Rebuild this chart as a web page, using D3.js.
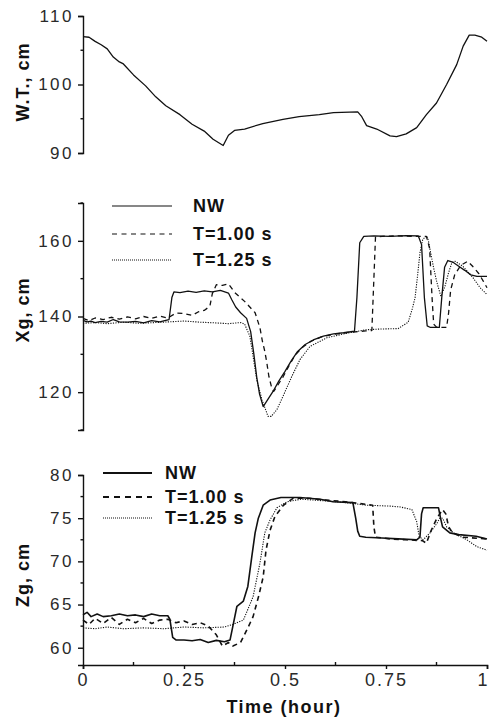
<!DOCTYPE html>
<html>
<head>
<meta charset="utf-8">
<script src="https://cdn.jsdelivr.net/npm/d3@7/dist/d3.min.js"></script>
<style>
  html, body { margin: 0; padding: 0; background: #fff; }
  svg { display: block; }
  .tick-label { font-family: "Liberation Sans", Arial, sans-serif; font-size: 17px; letter-spacing: 2.5px; fill: #2a2a2a; }
  .axis-title { font-family: "Liberation Sans", Arial, sans-serif; font-size: 18px; font-weight: bold; letter-spacing: 1px; fill: #111; }
  .legend-text { font-family: "Liberation Sans", Arial, sans-serif; font-size: 18px; font-weight: bold; letter-spacing: 1px; fill: #111; }
</style>
</head>
<body>
<svg id="chart" width="489" height="721"></svg>
<script>
// ---- data: time (hour) vs value ----
const timeTicks = [0, 0.25, 0.5, 0.75, 1];
const timeTickLabels = ["0", "0.25", "0.5", "0.75", "1"];

const wtTicks = [90, 100, 110];
const xgTicks = [120, 140, 160];
const zgTicks = [60, 65, 70, 75, 80];

const seriesNames = ["NW", "T=1.00 s", "T=1.25 s"];

// water table, cm
const waterTable = [[0,107],[0.015,106.9],[0.03,106.3],[0.045,105.8],[0.06,105.2],[0.075,104],[0.09,103.3],[0.1,103],[0.125,101.4],[0.155,99.8],[0.18,98.2],[0.205,96.9],[0.24,95.6],[0.27,94.2],[0.3,93.2],[0.322,92],[0.347,91.1],[0.36,92.6],[0.375,93.3],[0.4,93.5],[0.445,94.3],[0.495,94.9],[0.535,95.3],[0.585,95.6],[0.62,95.9],[0.68,96.0],[0.69,95.3],[0.702,94.0],[0.727,93.5],[0.76,92.5],[0.776,92.4],[0.8,92.8],[0.826,93.7],[0.85,95.6],[0.875,97.3],[0.9,100],[0.925,102.9],[0.941,105.6],[0.956,107.2],[0.97,107.2],[0.987,106.9],[1,106.3]];

// horizontal centroid Xg, cm
const xgNW = [[0,139],[0.01,138.6],[0.02,138.8],[0.03,138.4],[0.045,138.7],[0.06,138.5],[0.075,139.2],[0.09,138.6],[0.11,138.5],[0.13,138.7],[0.15,138.3],[0.17,138.9],[0.19,138.6],[0.205,139],[0.213,139.2],[0.22,145],[0.225,146.5],[0.24,146.3],[0.26,146.7],[0.28,146.4],[0.3,146.8],[0.32,146.5],[0.34,146.9],[0.36,146.2],[0.368,144.5],[0.378,142.5],[0.39,141],[0.405,139.5],[0.415,136],[0.423,130],[0.43,124],[0.437,119.5],[0.446,116.2],[0.46,118.5],[0.472,120.5],[0.485,123],[0.5,125.5],[0.515,128.2],[0.53,130.6],[0.55,132.6],[0.57,133.8],[0.595,134.8],[0.62,135.4],[0.645,135.7],[0.672,136.1],[0.678,145],[0.685,159.5],[0.695,161.2],[0.72,161.3],[0.76,161.2],[0.8,161.4],[0.83,161.3],[0.838,159],[0.845,145],[0.852,137.5],[0.86,137.1],[0.882,137.1],[0.888,145],[0.895,153],[0.903,154.8],[0.915,154.4],[0.93,153.3],[0.945,152.2],[0.96,151],[0.975,150.6],[1,150.6]];
const xgT100 = [[0,139.5],[0.015,138.9],[0.03,139.6],[0.05,139.2],[0.07,139.8],[0.09,139.3],[0.11,139.9],[0.13,139.4],[0.15,140],[0.17,139.5],[0.19,140.1],[0.21,139.6],[0.23,140.9],[0.25,140.8],[0.27,140.3],[0.285,141.2],[0.3,141.6],[0.314,142.7],[0.32,146],[0.33,148.4],[0.345,148.2],[0.36,148.6],[0.376,146.3],[0.4,144],[0.426,141],[0.438,137],[0.444,133.5],[0.45,130.8],[0.455,127.8],[0.46,124.2],[0.467,121.2],[0.472,120.2],[0.48,121.5],[0.495,124],[0.51,127],[0.525,129.8],[0.545,132],[0.565,133.5],[0.59,134.6],[0.62,135.3],[0.65,135.7],[0.68,136],[0.7,136.2],[0.715,136.3],[0.72,150],[0.724,161],[0.74,161.2],[0.78,161.3],[0.82,161.2],[0.85,161.2],[0.858,158],[0.864,145],[0.868,138],[0.875,137.2],[0.9,137.1],[0.905,141],[0.91,147],[0.92,151],[0.935,153.5],[0.952,154.6],[0.965,153.2],[0.98,151.3],[0.99,149.5],[1,147.6]];
const xgT125 = [[0,138.2],[0.03,138.4],[0.06,138.1],[0.1,138.5],[0.14,138.2],[0.18,138.4],[0.215,138.6],[0.25,138.8],[0.29,138.5],[0.33,138.3],[0.36,138.1],[0.39,138.4],[0.4,138],[0.413,134.8],[0.421,129.5],[0.43,123.3],[0.443,118],[0.458,113.6],[0.466,113.6],[0.48,115.4],[0.495,118.9],[0.517,124.2],[0.537,128.6],[0.562,132.1],[0.604,134.4],[0.65,135.5],[0.7,136.5],[0.74,136.7],[0.78,136.8],[0.805,138.5],[0.815,142],[0.822,145],[0.828,150.7],[0.834,156.8],[0.841,160.4],[0.851,161.3],[0.855,160],[0.859,157.7],[0.867,153.3],[0.876,149],[0.886,145.3],[0.896,148],[0.905,151.6],[0.913,154.2],[0.921,154.6],[0.94,153.3],[0.965,150.3],[0.983,147.6],[1,145.8]];

// vertical centroid Zg, cm
const zgNW = [[0,63.8],[0.01,64.1],[0.02,63.6],[0.035,63.9],[0.05,63.6],[0.07,63.7],[0.09,63.9],[0.11,63.7],[0.13,63.8],[0.15,63.6],[0.17,63.9],[0.19,63.7],[0.21,63.7],[0.215,63.3],[0.222,61.2],[0.23,60.9],[0.25,60.9],[0.27,60.8],[0.29,60.95],[0.31,60.6],[0.33,60.85],[0.35,60.7],[0.364,60.9],[0.371,62.5],[0.381,64.8],[0.397,65.4],[0.408,67.1],[0.418,70.6],[0.426,73.3],[0.434,75],[0.446,76.5],[0.463,77.1],[0.49,77.4],[0.537,77.4],[0.587,77.2],[0.619,76.9],[0.668,76.8],[0.675,75],[0.68,73.5],[0.685,72.9],[0.7,72.8],[0.74,72.7],[0.78,72.6],[0.826,72.5],[0.834,72.8],[0.838,75.5],[0.842,76.2],[0.88,76.2],[0.885,75],[0.89,74],[0.908,73.3],[0.93,73.1],[0.973,72.9],[1,72.6]];
const zgT100 = [[0,63.2],[0.015,62.7],[0.03,63.4],[0.05,62.8],[0.07,63.5],[0.09,62.7],[0.11,63.3],[0.13,62.9],[0.15,63.4],[0.17,62.8],[0.19,63.2],[0.21,63.3],[0.23,62.9],[0.25,63.1],[0.27,62.7],[0.29,62.9],[0.31,62.5],[0.33,61.5],[0.345,60.2],[0.36,60.6],[0.371,60.2],[0.39,60.6],[0.408,62.3],[0.421,63.6],[0.435,66],[0.446,68.2],[0.453,71.3],[0.463,73.6],[0.475,75.2],[0.496,76.5],[0.52,77.3],[0.56,77.3],[0.6,77.1],[0.65,76.9],[0.7,76.6],[0.717,76.5],[0.72,74],[0.724,72.8],[0.76,72.6],[0.8,72.5],[0.84,72.4],[0.85,72.1],[0.862,73.6],[0.876,75],[0.89,76],[0.898,75.5],[0.905,74],[0.915,73.3],[0.94,72.8],[1,72.6]];
const zgT125 = [[0,62.3],[0.03,62.2],[0.06,62.4],[0.1,62.2],[0.15,62.3],[0.2,62.2],[0.25,62.4],[0.3,62.3],[0.35,62.4],[0.371,62.7],[0.397,63.2],[0.421,65.9],[0.438,69.8],[0.45,73.3],[0.463,74.8],[0.48,76.2],[0.505,76.9],[0.54,77.2],[0.6,77.0],[0.65,76.8],[0.702,76.5],[0.76,76.4],[0.785,76.3],[0.814,76],[0.826,74.6],[0.832,72.9],[0.842,72.5],[0.859,73.3],[0.876,74.4],[0.883,75],[0.89,75],[0.9,74],[0.917,73.3],[0.95,72.5],[0.975,71.7],[1,71.3]];

// ---- layout ----
const svg = d3.select("#chart");
const x = d3.scaleLinear().domain([0, 1]).range([83, 487]);

const panels = [
  { y: d3.scaleLinear().domain([90, 110]).range([153, 16]), ticks: wtTicks, minor: [95, 105], title: "W.T., cm", titleY: 82 },
  { y: d3.scaleLinear().domain([110, 170]).range([430, 203]), ticks: xgTicks, minor: [110, 130, 150, 170], title: "Xg, cm", titleY: 310 },
  { y: d3.scaleLinear().domain([58, 80]).range([665, 475]), ticks: zgTicks, minor: [62.5, 67.5, 72.5, 77.5], title: "Zg, cm", titleY: 575 }
];

const styles = [
  { width: 1.3, dash: null },
  { width: 1.3, dash: "5,4" },
  { width: 1.1, dash: "1.2,1.3" }
];

panels.forEach(p => {
  const g = svg.append("g");
  const ax = d3.axisLeft(p.y).tickValues(p.ticks).tickSize(5).tickPadding(4).tickFormat(d3.format("d"));
  g.attr("transform", `translate(${x(0)},0)`).call(ax);
  g.select(".domain").attr("stroke", "#111").attr("stroke-width", 1.4);
  g.selectAll(".tick line").attr("stroke", "#111").attr("stroke-width", 1.4);
  g.selectAll(".tick text").attr("class", "tick-label").attr("font-size", null).attr("font-family", null);
  g.attr("font-size", null).attr("font-family", null);
  // minor ticks
  g.selectAll(".minor").data(p.minor).enter().append("line")
    .attr("x1", -2.5).attr("x2", 0)
    .attr("y1", d => p.y(d)).attr("y2", d => p.y(d))
    .attr("stroke", "#111").attr("stroke-width", 1.4);
  svg.append("text").attr("class", "axis-title")
    .attr("transform", `translate(23,${p.titleY}) rotate(-90)`)
    .attr("text-anchor", "middle").attr("dominant-baseline", "central")
    .text(p.title);
});

// x axis on the bottom panel
const zy = panels[2].y;
const xg = svg.append("g").attr("transform", `translate(0,${zy(58)})`)
  .call(d3.axisBottom(x).tickValues(timeTicks).tickSize(4).tickPadding(4)
    .tickFormat((d, i) => timeTickLabels[i]));
xg.attr("font-size", null).attr("font-family", null);
xg.select(".domain").attr("stroke", "#111").attr("stroke-width", 1.6);
xg.selectAll(".tick line").attr("stroke", "#111").attr("stroke-width", 1.4);
xg.selectAll(".tick text").attr("class", "tick-label").style("font-size", "18px").style("letter-spacing", "2px");
// keep the last label inside the right edge
xg.selectAll(".tick text").filter(d => d === 1)
  .attr("text-anchor", "end").attr("dx", "0px").style("letter-spacing", "0px");
xg.selectAll(".minor").data([0.125, 0.375, 0.625, 0.875]).enter().append("line")
  .attr("x1", d => x(d)).attr("x2", d => x(d)).attr("y1", -3).attr("y2", 0)
  .attr("stroke", "#111").attr("stroke-width", 1.4);

svg.append("text").attr("class", "axis-title")
  .attr("x", 284).attr("y", 713).attr("text-anchor", "middle")
  .style("letter-spacing", "1.5px")
  .text("Time (hour)");

// ---- lines ----
function drawSeries(yScale, data, style, extraWidth) {
  const line = d3.line().x(d => x(d[0])).y(d => yScale(d[1]));
  svg.append("path").datum(data)
    .attr("d", line)
    .attr("fill", "none")
    .attr("stroke", "#111")
    .attr("stroke-width", style.width + (extraWidth || 0))
    .attr("stroke-dasharray", style.dash)
    .attr("stroke-linejoin", "round");
}

drawSeries(panels[0].y, waterTable, styles[0]);

[xgNW, xgT100, xgT125].forEach((d, i) => drawSeries(panels[1].y, d, styles[i]));
[zgNW, zgT100, zgT125].forEach((d, i) => drawSeries(panels[2].y, d, styles[i], i === 2 ? 0 : 0.3));

// ---- legends ----
function legend(x0, x1, textX, rows, lineStyles) {
  rows.forEach((rowY, i) => {
    svg.append("line").attr("x1", x0).attr("x2", x1).attr("y1", rowY).attr("y2", rowY)
      .attr("stroke", "#111").attr("stroke-width", lineStyles[i].width)
      .attr("stroke-dasharray", lineStyles[i].dash);
    svg.append("text").attr("class", "legend-text")
      .attr("x", textX).attr("y", rowY + 6).text(seriesNames[i]);
  });
}

legend(112, 172, 193, [206, 234, 260], [
  { width: 1.1, dash: null }, { width: 1.1, dash: "5,4.5" }, { width: 1, dash: "1,1" }
]);
legend(103, 152, 165, [473, 497, 518], [
  { width: 2, dash: null }, { width: 2, dash: "6,5" }, { width: 1, dash: "1,1" }
]);
</script>
</body>
</html>
